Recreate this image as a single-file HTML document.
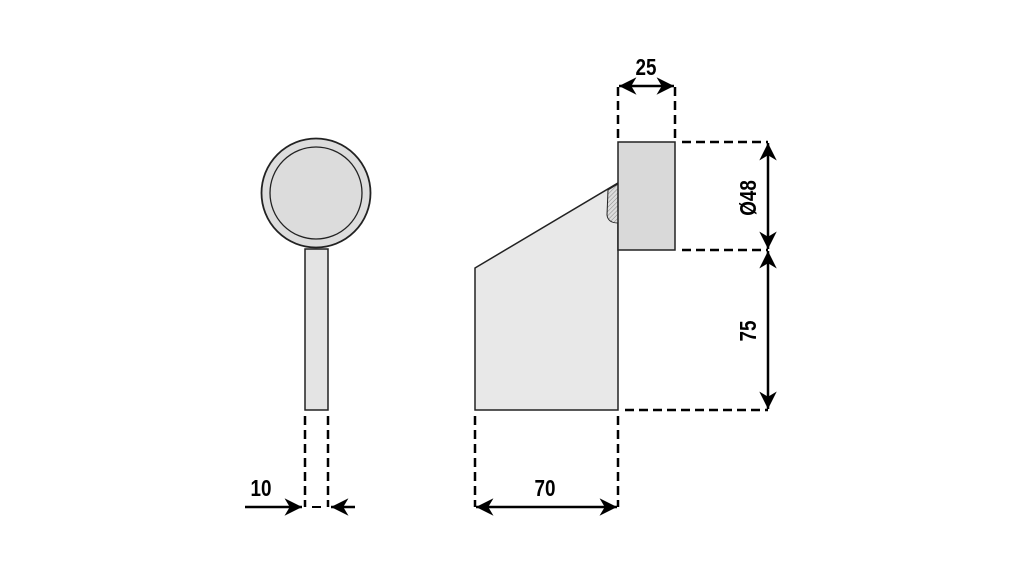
<!DOCTYPE html>
<html><head><style>body{margin:0;background:#fff}svg{display:block}text{font-family:"Liberation Sans",sans-serif;font-weight:bold;font-size:23px;fill:#000}</style></head>
<body>
<svg width="1021" height="567" viewBox="0 0 1021 567">
<defs>
<marker id="a" viewBox="0 0 10 10" refX="10" refY="5" markerWidth="7" markerHeight="7" orient="auto-start-reverse"><path d="M0,0 L10,5 L0,10 L3,5 z" fill="#000"/></marker>
<pattern id="h" width="3" height="3" patternUnits="userSpaceOnUse" patternTransform="rotate(45)"><rect width="3" height="3" fill="#ddd"/><line x1="0" y1="0" x2="0" y2="3" stroke="#888" stroke-width="1"/></pattern>
</defs>
<circle cx="316" cy="193" r="54.5" fill="#ddd" stroke="#222" stroke-width="1.8"/>
<circle cx="316" cy="193" r="46" fill="#dcdcdc" stroke="#222" stroke-width="1.3"/>
<rect x="305" y="249" width="23" height="161" fill="#e4e4e4" stroke="#222" stroke-width="1.5"/>
<g stroke="#000" stroke-width="2.5" stroke-dasharray="9,5" fill="none">
<line x1="305" y1="416" x2="305" y2="507"/><line x1="328" y1="416" x2="328" y2="507"/>
<line x1="475" y1="416" x2="475" y2="507"/><line x1="618" y1="416" x2="618" y2="507"/>
<line x1="618" y1="138" x2="618" y2="86"/><line x1="675" y1="138" x2="675" y2="86"/>
<line x1="682" y1="142" x2="768" y2="142"/><line x1="682" y1="250" x2="768" y2="250"/>
<line x1="625" y1="410" x2="768" y2="410"/>
</g>
<line x1="312" y1="507" x2="321" y2="507" stroke="#000" stroke-width="2"/>
<g stroke="#000" stroke-width="2.5" fill="none">
<line x1="245" y1="507" x2="302" y2="507" marker-end="url(#a)"/>
<line x1="355" y1="507" x2="331" y2="507" marker-end="url(#a)"/>
<line x1="476" y1="507" x2="617" y2="507" marker-start="url(#a)" marker-end="url(#a)"/>
<line x1="619" y1="86" x2="674" y2="86" marker-start="url(#a)" marker-end="url(#a)"/>
<line x1="768" y1="143" x2="768" y2="249" marker-start="url(#a)" marker-end="url(#a)"/>
<line x1="768" y1="251" x2="768" y2="409" marker-start="url(#a)" marker-end="url(#a)"/>
</g>
<polygon points="475,268 618,183 618,410 475,410" fill="#e8e8e8" stroke="#222" stroke-width="1.5"/>
<path d="M618,184 L608,190 L607,215 Q608,223 618,223 Z" fill="url(#h)" stroke="#222" stroke-width="1"/>
<rect x="618" y="142" width="57" height="108" fill="#d9d9d9" stroke="#222" stroke-width="1.5"/>
<text transform="translate(261,496) scale(0.82,1)" text-anchor="middle">10</text>
<text transform="translate(545,496) scale(0.82,1)" text-anchor="middle">70</text>
<text transform="translate(646,75) scale(0.82,1)" text-anchor="middle">25</text>
<text transform="translate(756,198) rotate(-90) scale(0.82,1)" text-anchor="middle">Ø48</text>
<text transform="translate(756,331) rotate(-90) scale(0.82,1)" text-anchor="middle">75</text>
</svg>
</body></html>
